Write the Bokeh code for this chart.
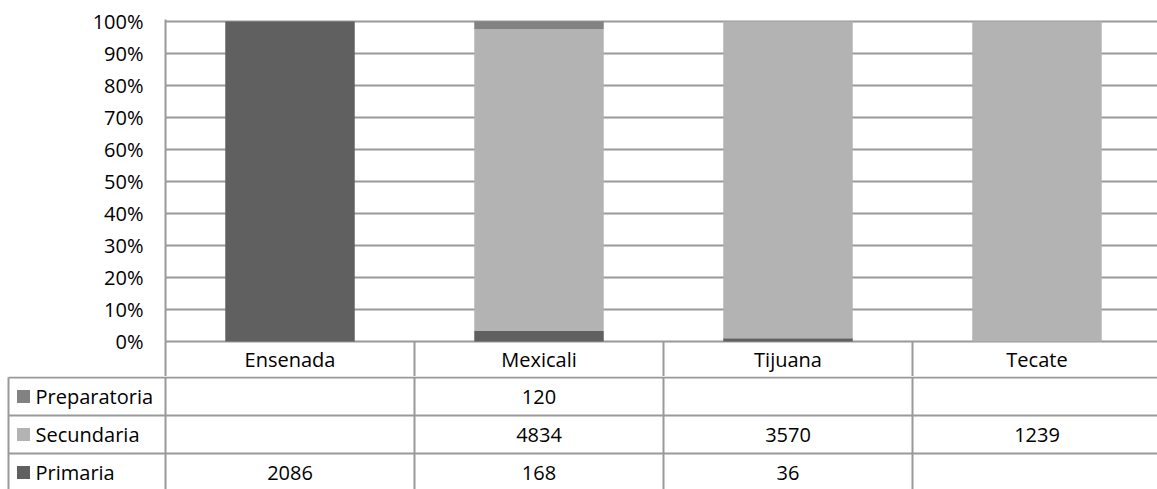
from bokeh.plotting import figure
from bokeh.models import Range1d, FixedTicker, NumeralTickFormatter
from bokeh.layouts import column
from bokeh.embed import file_html
from bokeh.resources import INLINE
from bokeh.core.properties import value

# ---------------- data ----------------
categories = ["Ensenada", "Mexicali", "Tijuana", "Tecate"]
primaria = [2086, 168, 36, None]
secundaria = [None, 4834, 3570, 1239]
preparatoria = [None, 120, None, None]
y_ticks = [0, 0.1, 0.2, 0.3, 0.4, 0.5, 0.6, 0.7, 0.8, 0.9, 1.0]

# stack order bottom -> top, and table order top -> bottom
stack_series = [("Primaria", primaria), ("Secundaria", secundaria), ("Preparatoria", preparatoria)]
table_series = [("Preparatoria", preparatoria), ("Secundaria", secundaria), ("Primaria", primaria)]
colors = {"Primaria": "#606060", "Secundaria": "#b3b3b3", "Preparatoria": "#828282"}

FONT = "Open Sans"
FSIZE = "20px"
LINE = "#999999"

# ---------------- layout constants ----------------
W = 1157
CAT_PX = 249           # pixel width of one category
LEFT_PX = 165          # left border region (axis + table row headers)
FRAME_W = W - LEFT_PX
X_END = FRAME_W / CAT_PX
PCT_PX = 320           # pixels for 0..100 %
HEAD_PX = 35           # category header row below the chart
FRAME_TOP = 19
TOP_H = FRAME_TOP + 2 + PCT_PX + HEAD_PX
ROW_PX = 38
TABLE_H = 489 - TOP_H

# ---------------- chart (with category header row) ----------------
p = figure(width=W, height=TOP_H, output_backend="svg", toolbar_location=None,
           x_range=Range1d(0, X_END),
           y_range=Range1d(-HEAD_PX / PCT_PX, 1 + 2 / PCT_PX),
           x_axis_location=None,
           min_border_left=LEFT_PX, min_border_right=0, min_border_top=FRAME_TOP,
           min_border_bottom=0, outline_line_color=None,
           background_fill_color="white", border_fill_color="white")
p.frame_align = False

totals = [sum(v[i] or 0 for _, v in stack_series) for i in range(len(categories))]
for i, cat in enumerate(categories):
    base = 0.0
    for name, vals in stack_series:
        v = vals[i]
        if not v:
            continue
        share = v / totals[i]
        p.vbar(x=[i + 0.5], bottom=[base], top=[base + share], width=0.52,
               fill_color=colors[name], line_color=None)
        base += share

p.xgrid.grid_line_color = None
p.ygrid.ticker = FixedTicker(ticks=y_ticks)
p.ygrid.grid_line_color = LINE
p.ygrid.grid_line_width = 2

p.yaxis.ticker = FixedTicker(ticks=y_ticks)
p.yaxis.formatter = NumeralTickFormatter(format="0%")
p.yaxis.major_tick_out = 0
p.yaxis.major_tick_in = 0
p.yaxis.minor_tick_out = 0
p.yaxis.minor_tick_in = 0
p.yaxis.major_label_standoff = 22
p.yaxis.axis_line_color = LINE
p.yaxis.axis_line_width = 2
p.yaxis.major_label_text_font = FONT
p.yaxis.major_label_text_font_size = FSIZE
p.yaxis.major_label_text_color = "black"

# header row: separators and category names
head_y = -HEAD_PX / PCT_PX
sep_x = list(range(1, len(categories)))
p.segment(x0=sep_x, x1=sep_x, y0=[0] * len(sep_x), y1=[head_y] * len(sep_x),
          line_color=LINE, line_width=2)
p.text(x=[i + 0.5 for i in range(len(categories))], y=[head_y / 2] * len(categories),
       text=categories, text_align="center", text_baseline="middle",
       text_font=value(FONT), text_font_size=FSIZE, text_color="black")

# ---------------- data table ----------------
x0 = -LEFT_PX / CAT_PX
t = figure(width=W, height=TABLE_H, output_backend="svg", toolbar_location=None,
           x_range=Range1d(x0, X_END),
           y_range=Range1d(-(TABLE_H - 1) / ROW_PX, 1 / ROW_PX),
           x_axis_location=None, y_axis_location=None,
           min_border=0, outline_line_color=None,
           background_fill_color="white", border_fill_color="white")
t.frame_align = False
t.grid.visible = False

n_rows = len(table_series)
left_edge = x0 + 8 / CAT_PX
# horizontal lines
t.segment(x0=[left_edge] * n_rows, x1=[X_END] * n_rows,
          y0=[-r for r in range(n_rows)], y1=[-r for r in range(n_rows)],
          line_color=LINE, line_width=2)
# vertical lines
vx = [left_edge] + list(range(len(categories)))
t.segment(x0=vx, x1=vx, y0=[0] * len(vx), y1=[-n_rows - 1] * len(vx),
          line_color=LINE, line_width=2)

for r, (name, vals) in enumerate(table_series):
    yc = -r - 0.5
    t.scatter(x=[x0 + 23 / CAT_PX], y=[yc], marker="square", size=13,
              fill_color=colors[name], line_color=None)
    t.text(x=[x0 + 35 / CAT_PX], y=[yc], text=[name], text_align="left",
           text_baseline="middle", text_font=value(FONT), text_font_size=FSIZE,
           text_color="black")
    xs = [i + 0.5 for i, v in enumerate(vals) if v is not None]
    txt = [str(v) for v in vals if v is not None]
    t.text(x=xs, y=[yc] * len(xs), text=txt, text_align="center",
           text_baseline="middle", text_font=value(FONT), text_font_size=FSIZE,
           text_color="black")

layout = column(p, t, spacing=0)
open("out.html", "w").write(file_html(layout, INLINE))
